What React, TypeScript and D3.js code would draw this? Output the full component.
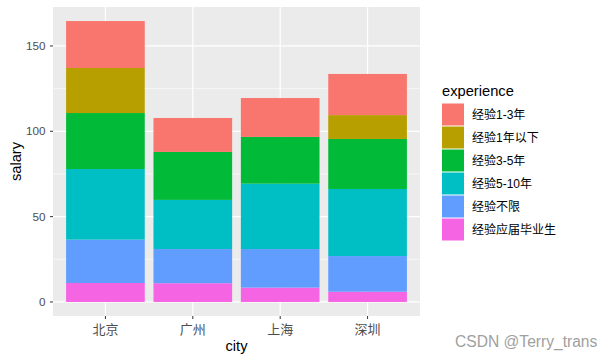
import React from "react";
import * as d3 from "d3";

const cities = ["北京", "广州", "上海", "深圳"];
// stacking order from bottom to top
const stackKeys = ["经验应届毕业生", "经验不限", "经验5-10年", "经验3-5年", "经验1年以下", "经验1-3年"];
const graduate = [11.1, 11.0, 8.4, 6.0];
const noLimit = [25.4, 20.0, 22.6, 20.9];
const fiveToTen = [41.4, 28.8, 38.3, 39.3];
const threeToFive = [32.8, 28.1, 27.4, 29.3];
const underOne = [26.4, 0, 0, 14.0];
const oneToThree = [27.5, 19.9, 22.8, 24.1];
const legendOrder = ["经验1-3年", "经验1年以下", "经验3-5年", "经验5-10年", "经验不限", "经验应届毕业生"];
const legendColors = ["#F8766D", "#B79F00", "#00BA38", "#00BFC4", "#619CFF", "#F564E3"];
const yTicks = [0, 50, 100, 150];
const yMinor = [25, 75, 125];

const FONT = "'Liberation Sans', Arial, 'Noto Sans CJK SC', sans-serif";

export default function App() {
  const W = 614, H = 361;
  const left = 53, right = 420, top = 7, bottom = 316;
  const seriesMap: Record<string, number[]> = {
    "经验应届毕业生": graduate,
    "经验不限": noLimit,
    "经验5-10年": fiveToTen,
    "经验3-5年": threeToFive,
    "经验1年以下": underOne,
    "经验1-3年": oneToThree,
  };
  const rows = cities.map((c, i) => {
    const r: any = { city: c };
    stackKeys.forEach((k) => (r[k] = seriesMap[k][i]));
    return r;
  });
  const stacked = d3.stack<any>().keys(stackKeys)(rows);
  const maxV = d3.max(stacked[stacked.length - 1], (d) => d[1]) as number;
  const y = d3.scaleLinear().domain([-0.05 * maxV, maxV * 1.05]).range([bottom, top]);
  const x = d3.scalePoint<string>().domain(cities).range([left, right]).padding(0.6);
  const bw = x.step() * 0.9;
  const color = d3.scaleOrdinal<string, string>().domain(legendOrder).range(legendColors);

  return (
    <svg width={W} height={H} style={{ position: "absolute", left: 0, top: 0, background: "#fff" }} fontFamily={FONT}>
      <rect x={left} y={top} width={right - left} height={bottom - top} fill="#EBEBEB" />
      {yMinor.map((t) => (
        <line key={"m" + t} x1={left} x2={right} y1={y(t)} y2={y(t)} stroke="#fff" strokeWidth={0.6} />
      ))}
      {yTicks.map((t) => (
        <line key={"g" + t} x1={left} x2={right} y1={y(t)} y2={y(t)} stroke="#fff" strokeWidth={1.2} />
      ))}
      {cities.map((c) => (
        <line key={"v" + c} x1={x(c)} x2={x(c)} y1={top} y2={bottom} stroke="#fff" strokeWidth={1.2} />
      ))}
      {stacked.map((s) => (
        <g key={s.key} fill={color(s.key)}>
          {s.map((d, i) =>
            d[1] - d[0] > 0 ? (
              <rect key={i} x={(x(cities[i]) as number) - bw / 2} width={bw} y={y(d[1])} height={y(d[0]) - y(d[1])} />
            ) : null
          )}
        </g>
      ))}
      {yTicks.map((t) => (
        <g key={"t" + t}>
          <line x1={left - 3} x2={left} y1={y(t)} y2={y(t)} stroke="#333" strokeWidth={1} />
          <text x={left - 7.5} y={y(t)} dy="0.35em" textAnchor="end" fontSize={11.7} fill="#4D4D4D">{t}</text>
        </g>
      ))}
      {cities.map((c) => (
        <g key={"xt" + c}>
          <line x1={x(c)} x2={x(c)} y1={bottom} y2={bottom + 3} stroke="#333" strokeWidth={1} />
          <text x={x(c)} y={329.5} dy="0.36em" textAnchor="middle" fontSize={13} fill="#4D4D4D">{c}</text>
        </g>
      ))}
      <text x={(left + right) / 2} y={350.5} textAnchor="middle" fontSize={14.7} fill="#000">city</text>
      <text transform={`translate(21,${(top + bottom) / 2}) rotate(-90)`} textAnchor="middle" fontSize={14.7} fill="#000">salary</text>
      <text x={442} y={96} fontSize={14.7} fill="#000">experience</text>
      {legendOrder.map((k, i) => (
        <g key={"l" + k} transform={`translate(442,${103.5 + i * 23})`}>
          <rect x={0} y={0} width={22} height={22} fill={color(k)} />
          <text x={30} y={11.5} dy="0.35em" fontSize={12} fill="#000">{k}</text>
        </g>
      ))}
      <text x={455} y={347} fontSize={15.6} fill="#A0A0A0">CSDN @Terry_trans</text>
    </svg>
  );
}
